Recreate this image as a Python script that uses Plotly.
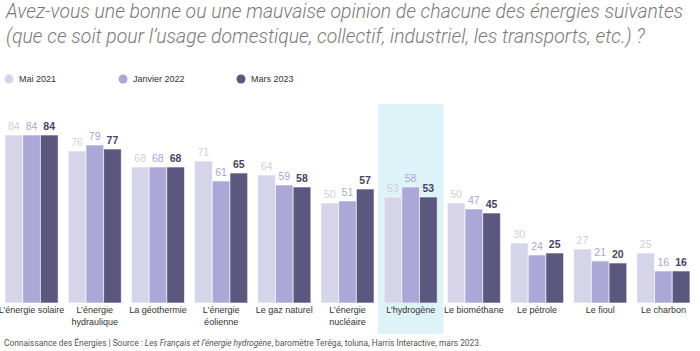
import plotly.graph_objects as go

categories = ["L’énergie solaire", "L’énergie<br>hydraulique", "La géothermie", "L’énergie<br>éolienne",
              "Le gaz naturel", "L’énergie<br>nucléaire", "L’hydrogène", "Le biométhane",
              "Le pétrole", "Le fioul", "Le charbon"]
series_names = ["Mai 2021", "Janvier 2022", "Mars 2023"]
mai_2021 = [84, 76, 68, 71, 64, 50, 53, 50, 30, 27, 25]
janvier_2022 = [84, 79, 68, 61, 59, 51, 58, 47, 24, 21, 16]
mars_2023 = [84, 77, 68, 65, 58, 57, 53, 45, 25, 20, 16]

bar_colors = ["#d5d4e9", "#aba7d7", "#5b577e"]
text_colors = ["#cfcfd6", "#a9a5d6", "#48445f"]
templates = ["%{y}", "%{y}", "<b>%{y}</b>"]

fig = go.Figure()
for name, vals, bc, tc, tt in zip(series_names, [mai_2021, janvier_2022, mars_2023], bar_colors, text_colors, templates):
    fig.add_trace(go.Bar(
        x=categories, y=vals, name=name, marker=dict(color=bc, line=dict(color="white", width=0.6)),
        texttemplate=tt, textposition="outside", cliponaxis=False,
        textfont=dict(color=tc, size=10.5, family="Liberation Sans, Arial"),
        showlegend=False, hoverinfo="skip"))

# legend drawn as paper-positioned circles + labels
legend_x = [9, 123, 241]
W = 695.0
for name, bc, lx in zip(series_names, bar_colors, legend_x):
    fx = lx / W
    fig.add_shape(type="circle", xref="paper", yref="paper",
                  x0=fx - 4.5 / W, x1=fx + 4.5 / W, y0=(303 - 83.5) / 200, y1=(303 - 74.5) / 200,
                  fillcolor=bc, line=dict(width=0))
    fig.add_annotation(text=name, xref="paper", yref="paper", x=fx, xshift=8, y=(303 - 79) / 200,
                       xanchor="left", yanchor="middle", showarrow=False,
                       font=dict(family="Liberation Sans, Arial", size=9, color="#333333"))

fig.add_shape(type="rect", xref="x", yref="paper", x0=5.48, x1=6.52, y0=-0.155, y1=0.995,
              fillcolor="#def3f7", line=dict(width=0), layer="below")

fig.add_annotation(text="Avez-vous une bonne ou une mauvaise opinion de chacune des énergies suivantes<br>(que ce soit pour l’usage domestique, collectif, industriel, les transports, etc.) ?",
                   xref="paper", yref="paper", x=0, y=1.525, xanchor="left", yanchor="top",
                   xshift=3, align="left", showarrow=False,
                   font=dict(family="Roboto", size=19.4, color="#7a7a7a", style="italic", weight=300))
fig.add_annotation(text="Connaissance des Énergies | Source : <i>Les Français et l’énergie hydrogène</i>, baromètre Teréga, toluna, Harris Interactive, mars 2023.",
                   xref="paper", yref="paper", x=0, y=-0.197, xanchor="left", yanchor="middle",
                   xshift=2, align="left", showarrow=False,
                   font=dict(family="Roboto", size=8.4, color="#555555"))

fig.update_layout(
    width=700, height=351, margin=dict(l=0, r=5, t=103, b=48),
    paper_bgcolor="white", plot_bgcolor="white",
    barmode="group", bargap=0.16, bargroupgap=0,
    showlegend=False,
    font=dict(family="Liberation Sans, Arial", size=10, color="#333333"),
    xaxis=dict(showgrid=False, showline=False, ticks="", tickangle=0, automargin=False,
               tickfont=dict(size=9, color="#333333"),
               range=[-0.5, 10.5], fixedrange=True),
    yaxis=dict(range=[0, 100], visible=False, fixedrange=True),
)

fig.write_html("out.html")
